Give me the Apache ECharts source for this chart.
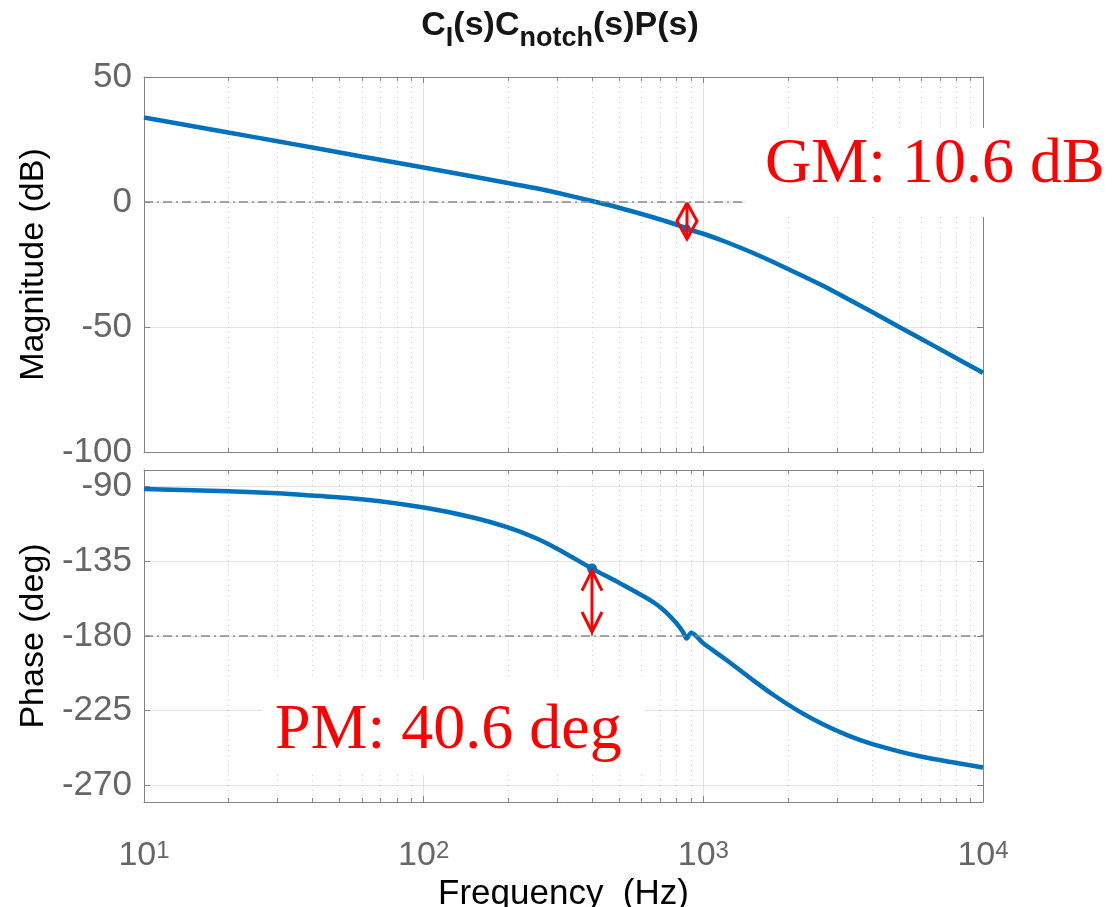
<!DOCTYPE html>
<html><head><meta charset="utf-8">
<script src="https://cdn.jsdelivr.net/npm/echarts@6/dist/echarts.min.js"></script>
<style>html,body{margin:0;padding:0;background:#fff}#c{width:1120px;height:907px}</style>
</head><body><div id="c"></div>
<script>
// ---- data ----
const freqHz      = [10, 20, 30, 40, 60, 100, 150, 200, 250, 300, 400, 500, 660, 730, 800, 845, 871, 905, 1000, 1200, 1500, 1800, 2200, 2700, 3300, 4000, 5000, 6000, 7600, 10000];
const magnitudeDb = [33.8, 27.8, 24.3, 21.8, 18.2, 13.8, 10.2, 7.6, 5.6, 3.7, 0.4, -2.3, -6.1, -7.6, -9.0, -9.9, -10.6, -11.3, -12.7, -15.9, -20.3, -24.3, -28.9, -33.7, -38.9, -43.9, -49.9, -54.7, -61.0, -68.3];
const phaseDeg    = [-91.4, -92.8, -94.0, -95.4, -97.6, -102.6, -108.6, -114.6, -120.8, -127.4, -139.4, -148.0, -159.4, -165.2, -172.2, -177.5, -181.5, -178.0, -184.4, -194.0, -206.4, -216.0, -225.4, -233.5, -240.0, -245.0, -249.5, -252.6, -255.8, -259.2];
const magTicks    = [-100, -50, 0, 50];
const phaseTicks  = [-270, -225, -180, -135, -90];
const xTickValues = [10, 100, 1000, 10000];
const xTickExponents = ['1', '2', '3', '4'];
const minorFreqs  = [20, 30, 40, 50, 60, 70, 80, 90, 200, 300, 400, 500, 600, 700, 800, 900, 2000, 3000, 4000, 5000, 6000, 7000, 8000, 9000];
const gainMarginDb = 10.6, gainMarginFreq = 871;
const phaseMarginDeg = 40.6, phaseMarginFreq = 400;
const magRange = [-100, 50], phaseRange = [-280, -80], freqRange = [10, 10000];
const titleParts = [['C', 0], ['I', 1], ['(s)C', 0], ['notch', 1], ['(s)P(s)', 0]]; // [text, isSubscript]

// ---- styles ----
const AX = '#838383', LBL = '#666666', GRID = '#e2e2e2', BLUE = '#0072BD', RED = '#ff0000';
const SANS = 'Liberation Sans', SERIF = 'Liberation Serif';

const chart = echarts.init(document.getElementById('c'), null, {renderer: 'canvas'});

function xLabelFmt(v) {
  const i = xTickValues.findIndex(t => Math.abs(v - t) / t < 1e-6);
  return i < 0 ? '' : '{b|10}{s|' + xTickExponents[i] + '}';
}

function xAxisDef(grid, pos, showLabel) {
  return {
    type: 'log', logBase: 10, gridIndex: grid, position: pos, min: freqRange[0], max: freqRange[1],
    axisLine: {show: true, onZero: false, lineStyle: {color: AX, width: 1}},
    axisTick: {show: true, inside: true, length: 6, lineStyle: {color: AX}},
    minorTick: {show: false},
    splitLine: {show: pos === 'bottom', lineStyle: {color: GRID, width: 1}},
    axisLabel: showLabel ? {
      show: true, margin: 37, formatter: xLabelFmt,
      rich: {
        b: {fontFamily: SANS, fontSize: 34, color: LBL, lineHeight: 34, verticalAlign: 'bottom', padding: [11, 0, 0, 0]},
        s: {fontFamily: SANS, fontSize: 24, color: LBL, lineHeight: 24, verticalAlign: 'top'}
      }
    } : {show: false},
    name: showLabel ? 'Frequency  (Hz)' : '', nameLocation: 'middle', nameGap: 75,
    nameTextStyle: {fontFamily: SANS, fontSize: 35, color: '#000'}
  };
}

function yAxisDef(grid, pos, range, ticks, name) {
  const left = pos === 'left';
  return {
    type: 'value', gridIndex: grid, position: pos, min: range[0], max: range[1],
    axisLine: {show: true, onZero: false, lineStyle: {color: AX, width: 1}},
    axisTick: {show: true, inside: true, length: 6, customValues: ticks, lineStyle: {color: AX}},
    axisLabel: {show: left, customValues: ticks, margin: 12, fontFamily: SANS, fontSize: 35, color: LBL},
    splitLine: {show: left, lineStyle: {color: GRID, width: 1}},
    name: left ? name : '', nameLocation: 'middle', nameGap: 91, nameRotate: 90,
    nameTextStyle: {fontFamily: SANS, fontSize: 34, color: '#000'}
  };
}

function minorGrid(axisIdx, yr) {
  return {
    type: 'custom', xAxisIndex: axisIdx, yAxisIndex: axisIdx, silent: true, z: 1,
    data: minorFreqs.map(f => [f, yr[0]]),
    encode: {x: 0, y: 1},
    renderItem(params, api) {
      const f = api.value(0);
      const a = api.coord([f, yr[1]]), b = api.coord([f, yr[0]]);
      const x = Math.round(a[0]) + 0.5;
      return {type: 'group', children: [
        {type: 'line', shape: {x1: x, y1: a[1], x2: x, y2: b[1]}, style: {stroke: '#cdcdcd', lineWidth: 1, lineDash: [1, 4]}},
        {type: 'line', shape: {x1: x, y1: a[1], x2: x, y2: a[1] + 4}, style: {stroke: AX, lineWidth: 1}},
        {type: 'line', shape: {x1: x, y1: b[1], x2: x, y2: b[1] - 4}, style: {stroke: AX, lineWidth: 1}}
      ]};
    }
  };
}

const refLine = (val) => ({
  silent: true, symbol: ['none', 'none'], label: {show: false},
  lineStyle: {color: '#8a8a8a', type: [9, 4, 2, 4], width: 1.5},
  emphasis: {disabled: true}, data: [{yAxis: val}]
});

const gmSeries = {
  type: 'custom', xAxisIndex: 0, yAxisIndex: 0, silent: true, z: 5,
  data: [[gainMarginFreq, -gainMarginDb]], encode: {x: 0, y: 1},
  renderItem(params, api) {
    const f = api.value(0);
    const p0 = api.coord([f, 0]), p1 = api.coord([f, api.value(1)]);
    const x = Math.round(p0[0]);
    const top = p0[1] + 1, bot = top + 36, mid = (top + bot) / 2, hw = 10;
    return {type: 'group', children: [
      {type: 'line', shape: {x1: x, y1: p0[1], x2: x, y2: p1[1]}, style: {stroke: '#8a8a8a', lineWidth: 2}},
      {type: 'circle', shape: {cx: p1[0], cy: p1[1], r: 4}, style: {fill: BLUE}},
      {type: 'polyline', shape: {points: [[x, top], [x - hw, mid], [x, bot], [x + hw, mid], [x, top]]}, style: {stroke: RED, lineWidth: 3, fill: null, lineJoin: 'miter'}},
      {type: 'line', shape: {x1: x, y1: top, x2: x, y2: bot}, style: {stroke: RED, lineWidth: 3}}
    ]};
  }
};

const pmSeries = {
  type: 'custom', xAxisIndex: 2, yAxisIndex: 2, silent: true, z: 5,
  data: [[phaseMarginFreq, -180 + phaseMarginDeg]], encode: {x: 0, y: 1},
  renderItem(params, api) {
    const f = api.value(0);
    const p1 = api.coord([f, api.value(1)]), p0 = api.coord([f, -180]);
    const x = Math.round(p0[0]);
    const top = p1[1] + 2, bot = p0[1] - 4, hw = 10, hl = 20;
    return {type: 'group', children: [
      {type: 'line', shape: {x1: x, y1: p1[1], x2: x, y2: p0[1]}, style: {stroke: '#8a8a8a', lineWidth: 2}},
      {type: 'circle', shape: {cx: p1[0], cy: p1[1], r: 5}, style: {fill: BLUE}},
      {type: 'line', shape: {x1: x, y1: top, x2: x, y2: bot}, style: {stroke: RED, lineWidth: 3}},
      {type: 'polyline', shape: {points: [[x - hw, top + hl], [x, top], [x + hw, top + hl]]}, style: {stroke: RED, lineWidth: 3, fill: null}},
      {type: 'polyline', shape: {points: [[x - hw, bot - hl], [x, bot], [x + hw, bot - hl]]}, style: {stroke: RED, lineWidth: 3, fill: null}}
    ]};
  }
};

// ---- title built as text pieces with real subscripts ----
function titleGraphics() {
  const mainFont = 'bold 34px "' + SANS + '"', subFont = 'bold 27px "' + SANS + '"';
  const ctx = document.createElement('canvas').getContext('2d');
  const widths = titleParts.map(([t, s]) => { ctx.font = s ? subFont : mainFont; return ctx.measureText(t).width; });
  const total = widths.reduce((a, b) => a + b, 0);
  let x = 560 - total / 2;
  const mainBase = 37, subBase = 48;
  return titleParts.map(([t, s], i) => {
    const fs = s ? 27 : 34;
    const el = {type: 'text', z: 50, x: x, y: (s ? subBase : mainBase) - 0.3465 * fs,
      style: {text: t, font: s ? subFont : mainFont, fill: '#151515', verticalAlign: 'middle', align: 'left'}};
    x += widths[i];
    return el;
  });
}

const option = {
  animation: false,
  backgroundColor: '#fff',
  grid: [
    {left: 144, right: 137, top: 77, height: 375, containLabel: false, outerBoundsMode: 'none'},
    {left: 144, right: 137, top: 470, height: 332, containLabel: false, outerBoundsMode: 'none'}
  ],
  xAxis: [xAxisDef(0, 'bottom', false), xAxisDef(0, 'top', false), xAxisDef(1, 'bottom', true), xAxisDef(1, 'top', false)],
  yAxis: [
    Object.assign(yAxisDef(0, 'left', magRange, magTicks, 'Magnitude (dB)'), {interval: 50}),
    Object.assign(yAxisDef(0, 'right', magRange, magTicks, ''), {interval: 50}),
    yAxisDef(1, 'left', phaseRange, phaseTicks, 'Phase (deg)'),
    yAxisDef(1, 'right', phaseRange, phaseTicks, '')
  ],
  series: [
    minorGrid(0, magRange),
    minorGrid(2, phaseRange),
    {
      type: 'line', name: 'Magnitude', xAxisIndex: 0, yAxisIndex: 0, z: 3,
      data: freqHz.map((f, i) => [f, magnitudeDb[i]]),
      showSymbol: false, smooth: 0.3, lineStyle: {color: BLUE, width: 4.5}, itemStyle: {color: BLUE},
      markLine: refLine(0)
    },
    {
      type: 'line', name: 'Phase', xAxisIndex: 2, yAxisIndex: 2, z: 3,
      data: freqHz.map((f, i) => [f, phaseDeg[i]]),
      showSymbol: false, smooth: 0.3, lineStyle: {color: BLUE, width: 4.5}, itemStyle: {color: BLUE},
      markLine: refLine(-180)
    },
    gmSeries,
    pmSeries
  ],
  graphic: [
    {type: 'rect', z: 100, shape: {x: 745, y: 128, width: 375, height: 89}, style: {fill: '#fff'}},
    {type: 'text', z: 101, x: 765, y: 165, style: {text: 'GM: ' + gainMarginDb.toFixed(1) + ' dB', font: '64px "' + SERIF + '"', fill: RED, verticalAlign: 'middle'}},
    {type: 'rect', z: 100, shape: {x: 262, y: 680, width: 383, height: 95}, style: {fill: '#fff'}},
    {type: 'text', z: 101, x: 275, y: 731, style: {text: 'PM: ' + phaseMarginDeg.toFixed(1) + ' deg', font: '64px "' + SERIF + '"', fill: RED, verticalAlign: 'middle'}}
  ].concat(titleGraphics())
};
chart.setOption(option);
</script>
</body></html>
